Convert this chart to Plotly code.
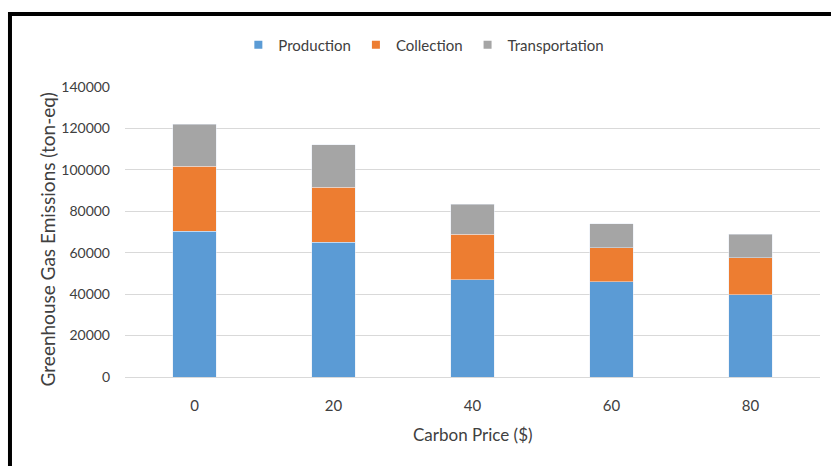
import plotly.graph_objects as go

# Carbon price scenarios ($) and emissions by stage (ton-eq)
carbon_price = ["0", "20", "40", "60", "80"]
production = [70400, 65100, 47000, 45900, 39800]
collection = [31300, 26600, 22000, 16500, 17800]
transportation = [20400, 20400, 14500, 11500, 11200]
y_ticks = [0, 20000, 40000, 60000, 80000, 100000, 120000, 140000]

series = [
    ("Production", production, "#5B9BD5"),
    ("Collection", collection, "#ED7D31"),
    ("Transportation", transportation, "#A5A5A5"),
]

FONT = "Lato, Open Sans, sans-serif"
TEXT = "#404040"

fig = go.Figure()
for name, vals, color in series:
    fig.add_bar(name=name, x=carbon_price, y=vals, marker_color=color,
                showlegend=False)
# legend entries drawn as small squares
for name, vals, color in series:
    fig.add_scatter(name=name, x=[None], y=[None], mode="markers",
                    marker=dict(symbol="square", size=8, color=color))

fig.update_layout(
    barmode="stack",
    bargap=0.69,
    width=831, height=466,
    margin=dict(l=125, r=11, t=87, b=89),
    paper_bgcolor="white", plot_bgcolor="white",
    font=dict(family=FONT, size=14, color=TEXT),
    legend=dict(
        orientation="h", x=0.43, y=1.145, xanchor="center", yanchor="middle",
        font=dict(size=15, color=TEXT), itemwidth=30, traceorder="normal",
    ),
    xaxis=dict(
        showgrid=False, showline=False, ticks="", ticklabelstandoff=18,
        tickfont=dict(size=15, color=TEXT),
    ),
    yaxis=dict(
        range=[0, 140000], tickvals=y_ticks, ticktext=[str(v) for v in y_ticks],
        showgrid=True, gridcolor="#D9D9D9", gridwidth=1.3,
        zeroline=True, zerolinecolor="#D9D9D9", zerolinewidth=1.3,
        showline=False, ticks="", ticklabelstandoff=14,
        tickfont=dict(size=14, color=TEXT),
    ),
    annotations=[
        dict(text="Greenhouse Gas Emissions (ton-eq)", xref="paper", yref="paper",
             x=-0.112, y=0.475, xanchor="center", yanchor="middle", textangle=-90,
             showarrow=False, font=dict(size=19, color=TEXT)),
        dict(text="Carbon Price ($)", xref="paper", yref="paper",
             x=0.5, y=-0.197, xanchor="center", yanchor="middle",
             showarrow=False, font=dict(size=17, color=TEXT)),
    ],
    shapes=[
        dict(type="rect", xref="paper", yref="paper",
             x0=-0.1655, x1=1.05, y0=-0.5, y1=1.2517,
             line=dict(color="black", width=4), fillcolor="rgba(0,0,0,0)", layer="above"),
    ],
)

fig.write_html("out.html")
